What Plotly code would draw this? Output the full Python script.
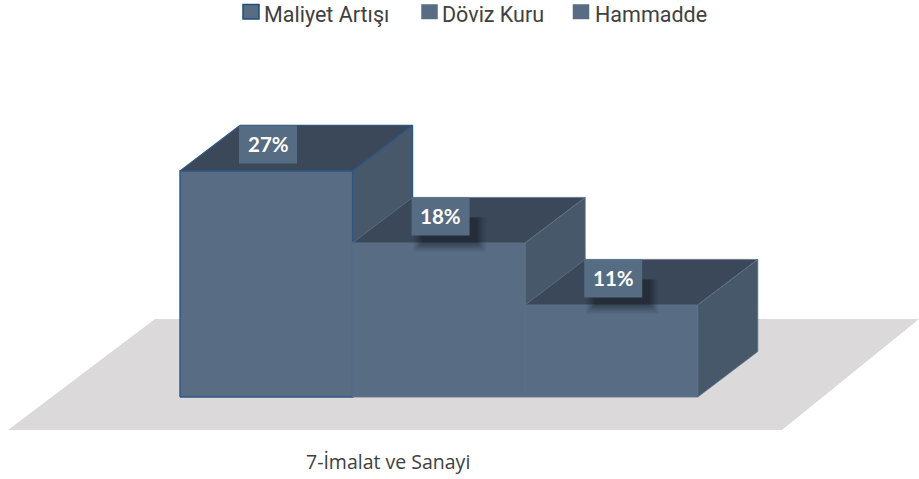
import plotly.graph_objects as go

# Data
category = "7-İmalat ve Sanayi"
series_names = ["Maliyet Artışı", "Döviz Kuru", "Hammadde"]
series_values = [27.0, 18.4, 11.0]
labels = ["27%", "18%", "11%"]

# Layout constants (pixels of the 919x479 picture)
W, H = 919, 479
X0, Y0 = 180.0, 397.0      # origin of the bars
UX, UY = 172.6, 8.375      # pixels per bar width / per percent
DX, DY = 60.0 / UX, 45.5 / UY  # depth of the 3D projection in data units

FRONT, TOP, SIDE = "#586c83", "#3b4859", "#465869"
FLOOR = "#dbd9da"
EDGES = ["#2c5684", "#5d7288", "#5d7288"]
LABEL_BG = "#566c83"
SHADOW = [False, True, True]
TXT = "#404040"


def px_x(p):
    return (p - X0) / UX


def px_y(p):
    return (Y0 - p) / UY


fig = go.Figure()


def poly(xs, ys, fill, line, width=1.2, name=None):
    fig.add_trace(go.Scatter(
        x=xs + xs[:1], y=ys + ys[:1], mode="lines", fill="toself", fillcolor=fill,
        line=dict(color=line, width=width), hoverinfo="skip", showlegend=False, name=name,
    ))


# Floor
fl = [px_x(8), px_x(782), px_x(919), px_x(155)]
poly(fl, [px_y(430), px_y(430), px_y(319), px_y(319)], FLOOR, FLOOR, 0)

# Bars
for i, (name, v) in enumerate(zip(series_names, series_values)):
    e = EDGES[i]
    poly([i, i + 1, i + 1, i], [0, 0, v, v], FRONT, e, 1.4 if i == 0 else 0.8, name)
    poly([i, i + 1, i + 1 + DX, i + DX], [v, v, v + DY, v + DY], TOP, e, 1.2 if i == 0 else 0.8, name)
    poly([i + 1, i + 1 + DX, i + 1 + DX, i + 1], [0, DY, v + DY, v], SIDE, e, 1.2 if i == 0 else 0.8, name)

shapes, annotations = [], []

# Data labels, pinned to the back-left corner of each bar top
BW, BH = 58 / UX, 38 / UY
for i, (v, t) in enumerate(zip(series_values, labels)):
    bx0 = i + DX - 1 / UX
    by1 = v + DY
    if SHADOW[i]:
        for g, op in [(10, .07), (8, .09), (6, .12), (4, .14), (2, .16)]:
            shapes.append(dict(
                type="rect", xref="x", yref="y", layer="above", line_width=0,
                fillcolor="#10151c", opacity=op,
                x0=bx0 + (12 - g) / UX, x1=bx0 + BW + (6 + g) / UX,
                y0=by1 - BH - (6 + g) / UY, y1=by1 - BH + 18 / UY,
            ))
    shapes.append(dict(type="rect", xref="x", yref="y", layer="above", line_width=0,
                       fillcolor=LABEL_BG, x0=bx0, x1=bx0 + BW, y0=by1 - BH, y1=by1))
    annotations.append(dict(
        x=bx0 + BW / 2, y=by1 - BH / 2, xref="x", yref="y", text=f"<b>{t}</b>", showarrow=False,
        font=dict(family="Lato, Carlito, sans-serif", size=20.5, color="white"),
    ))

# Legend
LEG_SWATCH = [243, 421.5, 573]
LEG_TEXT = [264, 442, 595]
for i, name in enumerate(series_names):
    lx = LEG_SWATCH[i]
    shapes.append(dict(type="rect", xref="x", yref="y", layer="above",
                       x0=px_x(lx), x1=px_x(lx + 16), y0=px_y(19), y1=px_y(4.5),
                       fillcolor=FRONT,
                       line=dict(color="#1f4e79" if i == 0 else FRONT, width=1.5 if i == 0 else 0.5)))
    annotations.append(dict(
        x=px_x(LEG_TEXT[i] - 1), y=px_y(0.5), xref="x", yref="y", xanchor="left", yanchor="top",
        borderpad=0, text=name, showarrow=False,
        font=dict(family="Roboto, sans-serif", size=21.5, color=TXT),
    ))

# Category label
annotations.append(dict(
    x=px_x(388), y=px_y(461), xref="x", yref="y", text=category, showarrow=False,
    font=dict(family="Open Sans, sans-serif", size=19.5, color=TXT),
))

fig.update_layout(
    width=W, height=H, margin=dict(l=0, r=0, t=0, b=0),
    paper_bgcolor="white", plot_bgcolor="white", showlegend=False,
    xaxis=dict(visible=False, range=[px_x(0), px_x(W)], fixedrange=True),
    yaxis=dict(visible=False, range=[px_y(H), px_y(0)], fixedrange=True),
    shapes=shapes, annotations=annotations,
)
fig.write_html(
    "out.html", config=dict(displayModeBar=False),
    post_script="document.body.style.margin='0';document.documentElement.style.overflow='hidden';",
)
